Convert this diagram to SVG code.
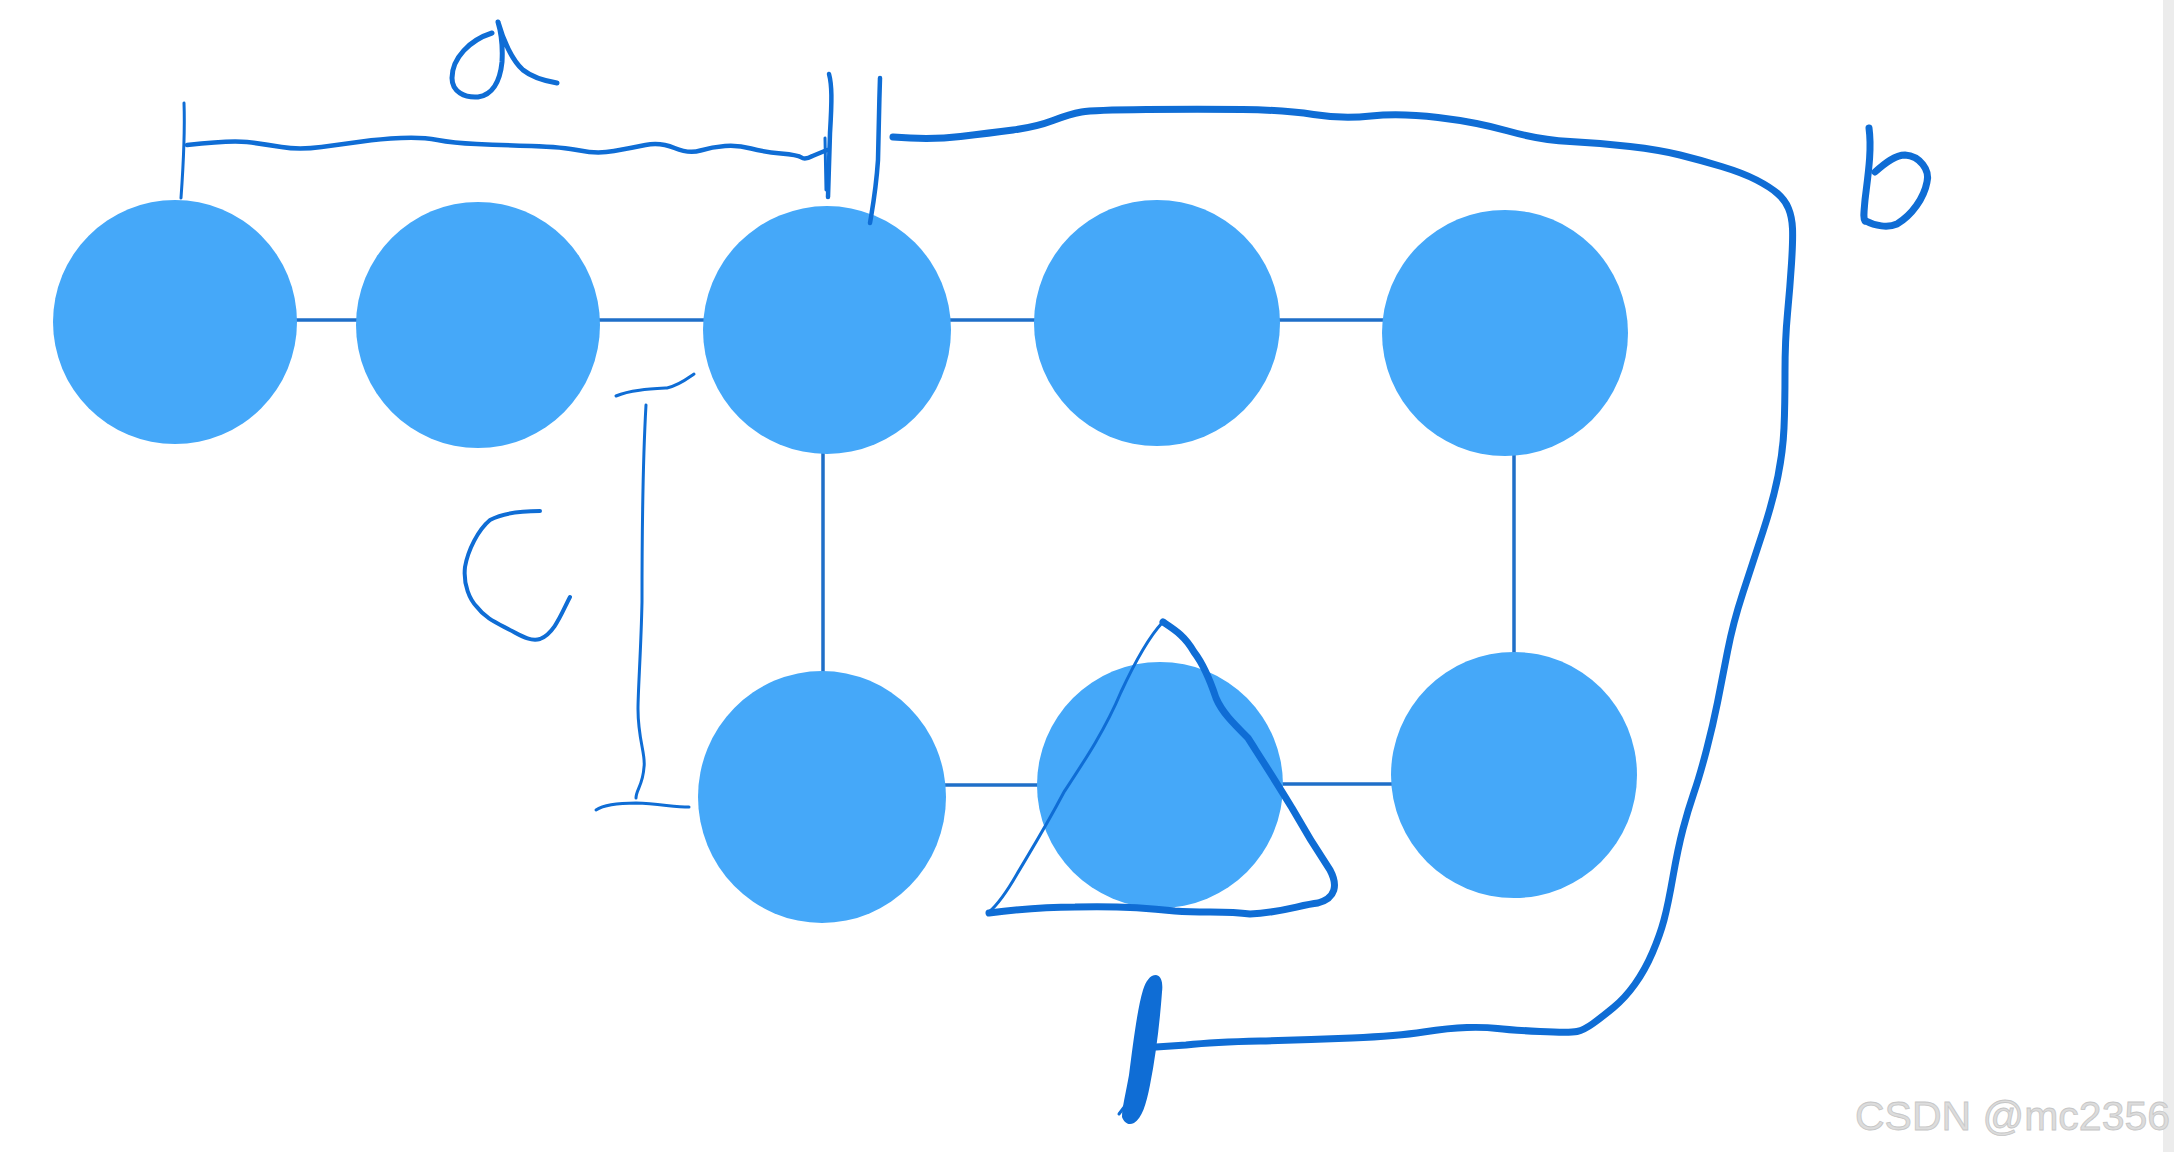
<svg xmlns="http://www.w3.org/2000/svg" width="2174" height="1152" viewBox="0 0 2174 1152">
<style>
.node{fill:#45a8f9}
.edge{stroke:#1f6fc8;stroke-width:3.5;fill:none}
.ink{stroke:#0f6dd5;fill:none;stroke-linecap:round;stroke-linejoin:round}
.thin{stroke-width:3}
.mid{stroke-width:4.5}
.let{stroke-width:5}
.thick{stroke-width:7}
.wm{font-family:"Liberation Sans",Arial,sans-serif;font-size:41px;fill:#dcdcdc;stroke:#c6c6c6;stroke-width:0.8}
</style>
<rect width="2174" height="1152" fill="#ffffff"/>
<rect x="2163" y="0" width="11" height="1152" fill="#ececec"/>
<g id="connectors">
<line class="edge" x1="295" y1="320" x2="357" y2="320"/>
<line class="edge" x1="598" y1="320" x2="706" y2="320"/>
<line class="edge" x1="950" y1="320" x2="1036" y2="320"/>
<line class="edge" x1="1278" y1="320" x2="1384" y2="320"/>
<line class="edge" x1="823" y1="452" x2="823" y2="674"/>
<line class="edge" x1="1514" y1="454" x2="1514" y2="654"/>
<line class="edge" x1="944" y1="785" x2="1039" y2="785"/>
<line class="edge" x1="1281" y1="784" x2="1393" y2="784"/>
</g>
<g id="n1"><ellipse class="node" cx="175" cy="322" rx="122" ry="122"/></g>
<g id="n2"><ellipse class="node" cx="478" cy="325" rx="122" ry="123"/></g>
<g id="n3"><ellipse class="node" cx="827" cy="330" rx="124" ry="124"/></g>
<g id="n4"><ellipse class="node" cx="1157" cy="323" rx="123" ry="123"/></g>
<g id="n5"><ellipse class="node" cx="1505" cy="333" rx="123" ry="123"/></g>
<g id="n6"><ellipse class="node" cx="822" cy="797" rx="124" ry="126"/></g>
<g id="n7"><ellipse class="node" cx="1160" cy="785" rx="123" ry="123"/></g>
<g id="n8"><ellipse class="node" cx="1514" cy="775" rx="123" ry="123"/></g>
<g id="annotations">
<!-- dimension a -->
<path class="ink thin" d="M184 103 C185 130 183 170 181 198"/>
<path class="ink mid" d="M187 145 Q230 140 247 142 Q264 144 281.5 147 Q299 150 321.5 147 Q344 144 362 141.5 Q380 139 401 138 Q422 137 437.5 140 Q453 143 476.5 144 Q500 145 531.5 146 Q563 147 580 150.5 Q597 154 614 151 Q631 148 645.5 145 Q660 142 674.5 148 Q689 154 700.5 150.5 Q712 147 725 146 Q738 145 751 148.5 Q764 152 781 153.5 Q798 155 801.5 157.5 Q805 160 812.5 156 L827 150"/>
<path class="ink mid" d="M829 74 C832 85 832 100 830 133 L828 197"/>
<path class="ink thin" d="M825 138 L826 190"/>
<path class="ink mid" d="M880 78 C879 110 878 150 878 160 C876 190 873 205 870 223"/>
<path class="ink let" d="M492 33 C470 40 452 58 452 78 C452 92 465 98 478 97 C492 95 500 82 502 62 C503 45 501 32 498 22 C503 40 512 60 523 70 C533 78 545 81 557 83"/>
<!-- dimension b -->
<path class="ink thick" d="M893 137 Q931 140 960.5 136.5 Q990 133 1013 130 Q1036 127 1053 120.5 Q1070 114 1081.5 112 Q1093 110 1146.5 109.5 Q1200 109 1242.5 109.5 Q1285 110 1313.5 114.5 Q1342 119 1371 116 Q1400 113 1438 117.5 Q1476 122 1508 131 Q1540 140 1570 141.5 Q1600 143 1630 146.5 Q1660 150 1680 155 Q1700 160 1721.5 166.5 Q1743 173 1756.5 180 Q1770 187 1777.5 193.5 Q1785 200 1788.5 208.5 Q1792 217 1792.5 228.5 Q1793 240 1791.5 263.5 Q1790 287 1787.5 313.5 Q1785 340 1785 372.5 Q1785 405 1784 428 Q1783 451 1778 476 Q1773 501 1763 531.5 Q1753 562 1743 592.5 Q1733 623 1727.5 651.5 Q1722 680 1717.5 702.5 Q1713 725 1706.5 750 Q1700 775 1694 792.5 Q1688 810 1683 829 Q1678 848 1673 876.5 Q1668 905 1664 920 Q1660 935 1652.5 952.5 Q1645 970 1635 984 Q1625 998 1613.5 1007.5 Q1602 1017 1593 1023.5 Q1584 1030 1577 1031.5 Q1570 1033 1540 1031.5 Q1510 1030 1497.5 1028.5 Q1485 1027 1467 1027.5 Q1449 1028 1423.5 1032 Q1398 1036 1352 1038 Q1306 1040 1260 1041 Q1214 1042 1186 1045 L1156 1047"/>
<path fill="#0f6dd5" d="M1156 975 C1162 976 1163 984 1162 992 C1160 1020 1156 1055 1150 1085 C1146 1105 1142 1118 1134 1123 C1128 1126 1124 1122 1122 1117 C1122 1108 1126 1092 1129 1075 C1133 1045 1137 1010 1143 990 C1146 981 1150 975 1156 975 Z"/>
<path class="ink thin" d="M1128 1102 L1119 1114"/>
<path class="ink thick" d="M1869 128 C1872 150 1868 175 1865 200 C1864 212 1863 218 1865 221"/>
<path class="ink thick" d="M1875 172 C1885 163 1895 155 1905 155 C1920 156 1930 170 1927 182 C1924 198 1912 215 1897 224 C1888 228 1875 226 1866 221"/>
<!-- dimension c -->
<path class="ink thin" d="M616 396 C630 390 650 389 667 388 C680 385 688 378 694 374"/>
<path class="ink thin" d="M646 405 C644 440 642 480 642 602 C641 650 638 690 638 709 C638 740 646 755 644 767 C643 785 636 790 636 798"/>
<path class="ink thin" d="M596 810 C605 804 620 803 636 803 C660 804 675 807 689 807"/>
<path class="ink let" style="stroke-width:4" d="M540 511 C525 511 505 512 490 520 C478 530 468 550 465 567 C463 585 470 600 477 607 C485 618 497 623 510 630 C520 635 530 642 540 639 C555 633 562 612 570 597"/>
<!-- triangle -->
<path class="ink thin" d="M1162 623 C1148 638 1135 662 1121 692 C1105 730 1085 760 1064 792 C1045 828 1030 852 1017 874 C1005 895 996 906 989 912"/>
<path class="ink thick" d="M989 913 C1020 909 1045 907 1075 907 C1110 906 1140 907 1175 911 C1205 913 1225 911 1250 914 C1280 913 1300 905 1318 903 C1336 898 1338 885 1330 870 C1322 858 1310 840 1292 808 C1275 780 1262 760 1248 738 C1232 722 1222 712 1216 698 C1210 680 1204 665 1194 652 C1185 636 1175 630 1163 622"/>
</g>
<text class="wm" x="1855" y="1130">CSDN @mc2356</text>
</svg>
